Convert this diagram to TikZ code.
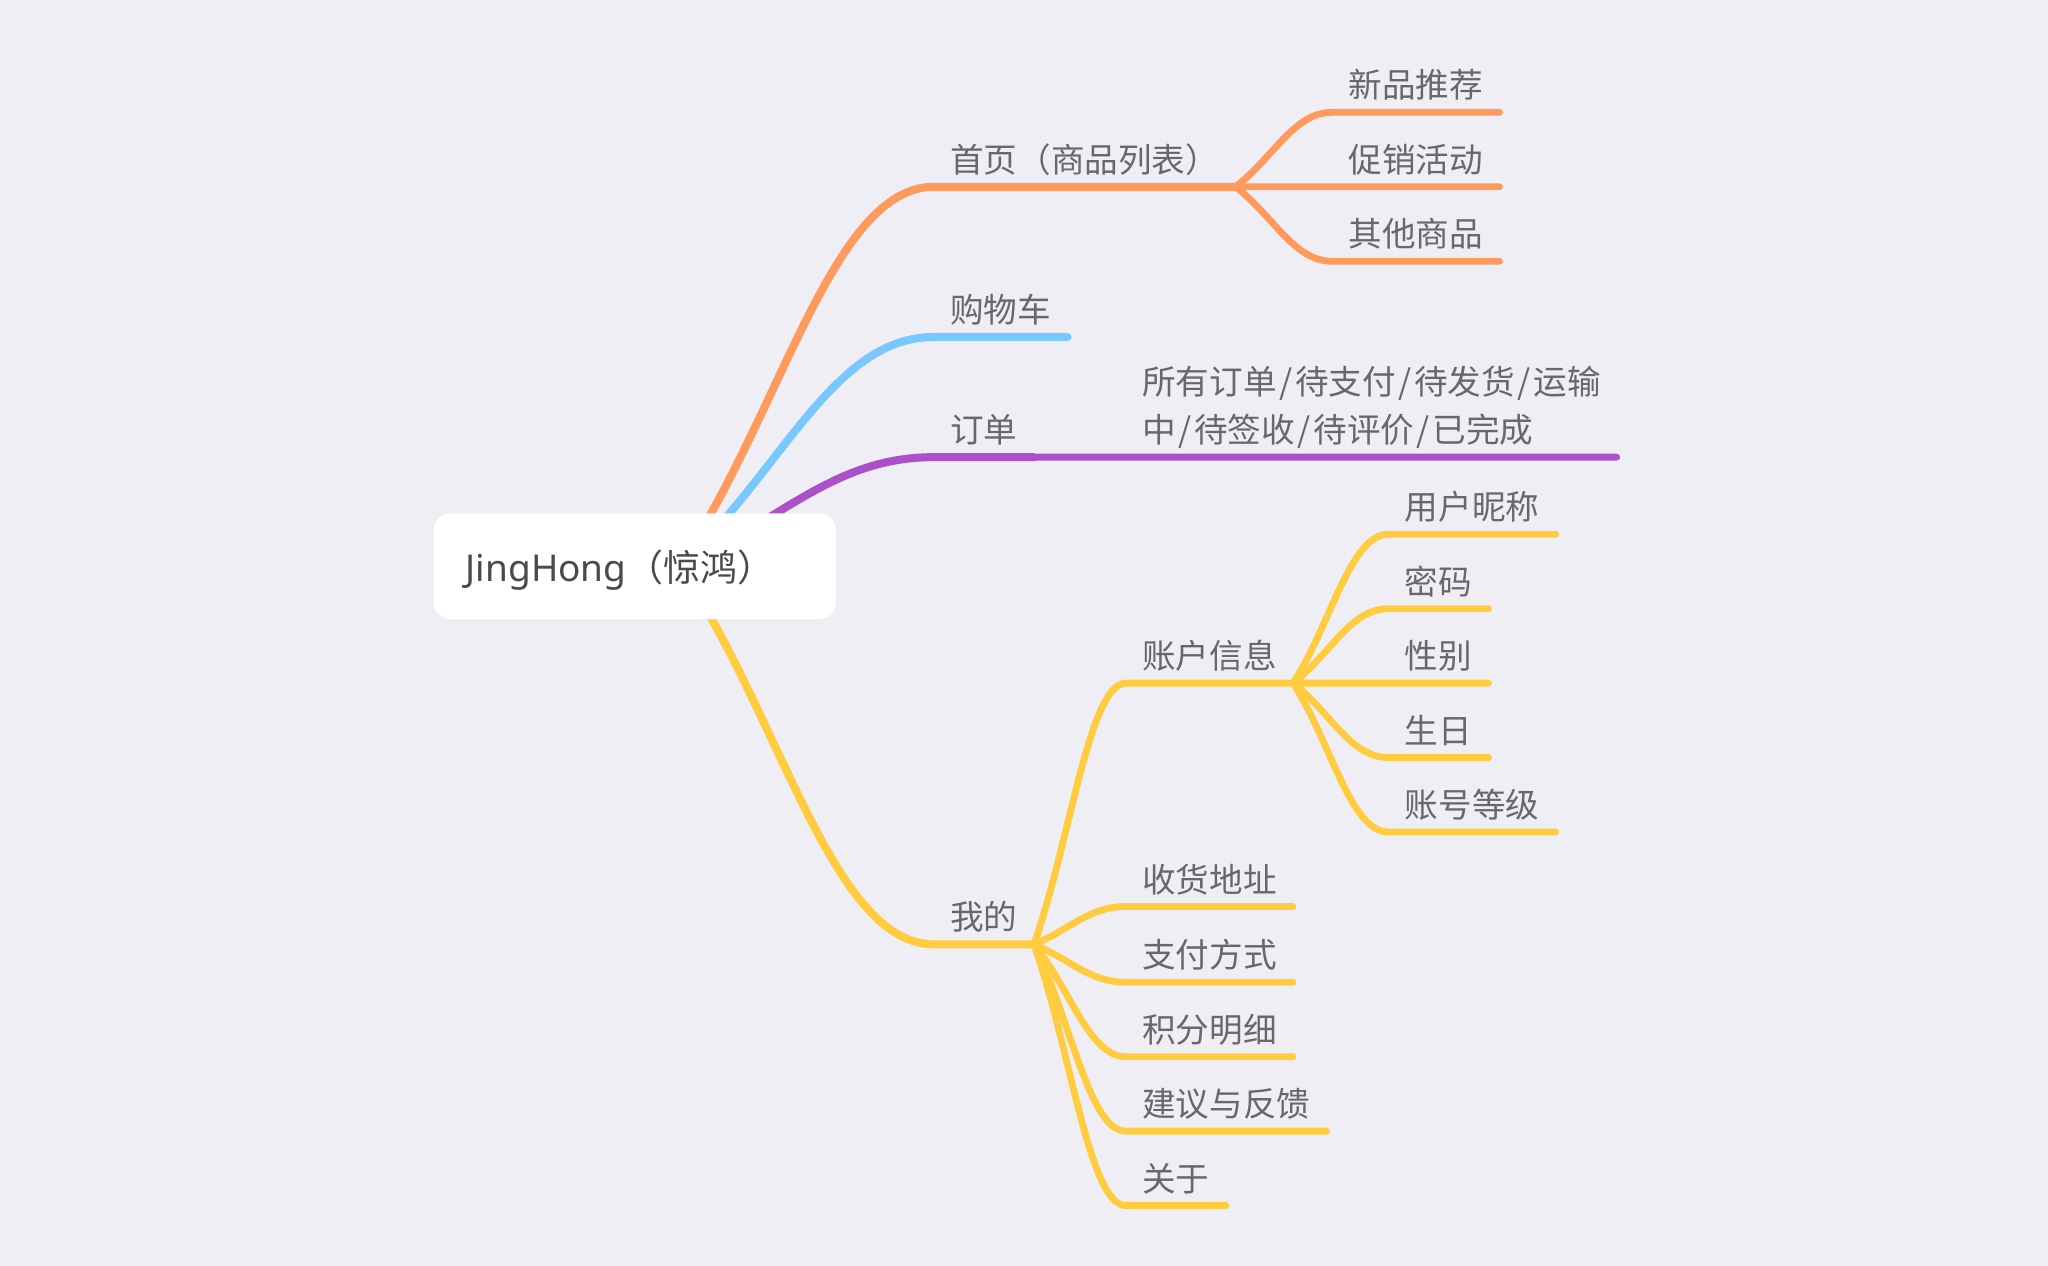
\documentclass[tikz,border=0pt]{standalone}
\usepackage{fontspec}
\setmainfont{Noto Sans CJK SC}
\newfontfamily\latinfont{Noto Sans}
\usetikzlibrary{calc,backgrounds}

\definecolor{paper}{RGB}{239,238,244}
\definecolor{inktext}{RGB}{104,104,108}
\definecolor{inkroot}{RGB}{74,74,76}
\definecolor{homeorange}{RGB}{255,153,92}
\definecolor{cartblue}{RGB}{120,199,255}
\definecolor{orderpurple}{RGB}{171,80,200}
\definecolor{mineyellow}{RGB}{255,204,64}

\newcommand\slashsep{\kern1.3pt/\kern1.3pt}

\tikzset{
  root/.style={fill=white, rounded corners=8pt, minimum width=201pt, minimum height=52.9pt,
    inner xsep=16pt, text width=169pt, align=left, text height=19.4pt, text depth=4pt,
    text=inkroot, font=\fontsize{18.5}{22}\selectfont},
  topic/.style={anchor=south west, inner xsep=8pt, inner ysep=7pt, text depth=0pt,
    text=inktext, font=\fontsize{16.8}{24}\selectfont},
  limb/.style={to path={.. controls ($(\tikztostart)!0.4!(\tikztotarget)$)
    and ($(\tikztotarget)!0.4!(\tikztostart|-\tikztotarget)$) .. (\tikztotarget) \tikztonodes}},
  bough/.style={draw=#1, line width=4pt, line cap=round, line join=round},
  twig/.style={draw=#1, line width=3.4pt, line cap=round, line join=round},
}

\begin{document}
\begin{tikzpicture}[x=0.65306pt, y=-0.65306pt]
    \useasboundingbox (0,0) rectangle (1568,969);
    \begin{scope}[on background layer]
        \fill[paper] (0,0) rectangle (1568,969);
    \end{scope}

    \node[root] (root) at (486,433.5) {{\latinfont JingHong}（惊鸿）};
    \coordinate (hub) at (520,433);

    \node[topic] (home) at (715,143) {首页（商品列表）};
    \node[topic] (new) at (1020,86) {新品推荐};
    \node[topic] (promo) at (1020,143) {促销活动};
    \node[topic] (other) at (1020,200) {其他商品};

    \node[topic] (cart) at (715,258) {购物车};

    \node[topic] (order) at (715,350) {订单};
    \node[topic, text width=229pt, align=left, text depth=24pt] (orderlist) at (862,350)
        {所有订单\slashsep 待支付\slashsep 待发货\slashsep 运输\\中\slashsep 待签收\slashsep 待评价\slashsep 已完成};

    \node[topic] (mine) at (715,723) {我的};
    \node[topic] (account) at (862,523) {账户信息};
    \node[topic] (nick) at (1063,409) {用户昵称};
    \node[topic] (pwd) at (1063,466) {密码};
    \node[topic] (gender) at (1063,523) {性别};
    \node[topic] (birth) at (1063,580) {生日};
    \node[topic] (level) at (1063,637) {账号等级};
    \node[topic] (addr) at (862,694) {收货地址};
    \node[topic] (pay) at (862,752) {支付方式};
    \node[topic] (points) at (862,809) {积分明细};
    \node[topic] (advice) at (862,866) {建议与反馈};
    \node[topic] (about) at (862,923) {关于};

    \begin{scope}[on background layer]
        \draw[bough=homeorange] (hub) to[limb] (home.south west) -- (home.south east);
        \draw[twig=homeorange] (home.south east) to[limb] (new.south west) -- (new.south east);
        \draw[twig=homeorange] (home.south east) to[limb] (promo.south west) -- (promo.south east);
        \draw[twig=homeorange] (home.south east) to[limb] (other.south west) -- (other.south east);

        \draw[bough=cartblue] (hub) to[limb] (cart.south west) -- (cart.south east);

        \draw[bough=orderpurple] (hub) to[limb] (order.south west) -- (order.south east);
        \draw[twig=orderpurple] (order.south east) to[limb] (orderlist.south west) -- (orderlist.south east);

        \draw[bough=mineyellow] (hub) to[limb] (mine.south west) -- (mine.south east);
        \draw[twig=mineyellow] (mine.south east) to[limb] (account.south west) -- (account.south east);
        \draw[twig=mineyellow] (account.south east) to[limb] (nick.south west) -- (nick.south east);
        \draw[twig=mineyellow] (account.south east) to[limb] (pwd.south west) -- (pwd.south east);
        \draw[twig=mineyellow] (account.south east) to[limb] (gender.south west) -- (gender.south east);
        \draw[twig=mineyellow] (account.south east) to[limb] (birth.south west) -- (birth.south east);
        \draw[twig=mineyellow] (account.south east) to[limb] (level.south west) -- (level.south east);
        \draw[twig=mineyellow] (mine.south east) to[limb] (addr.south west) -- (addr.south east);
        \draw[twig=mineyellow] (mine.south east) to[limb] (pay.south west) -- (pay.south east);
        \draw[twig=mineyellow] (mine.south east) to[limb] (points.south west) -- (points.south east);
        \draw[twig=mineyellow] (mine.south east) to[limb] (advice.south west) -- (advice.south east);
        \draw[twig=mineyellow] (mine.south east) to[limb] (about.south west) -- (about.south east);
    \end{scope}
\end{tikzpicture}
\end{document}
